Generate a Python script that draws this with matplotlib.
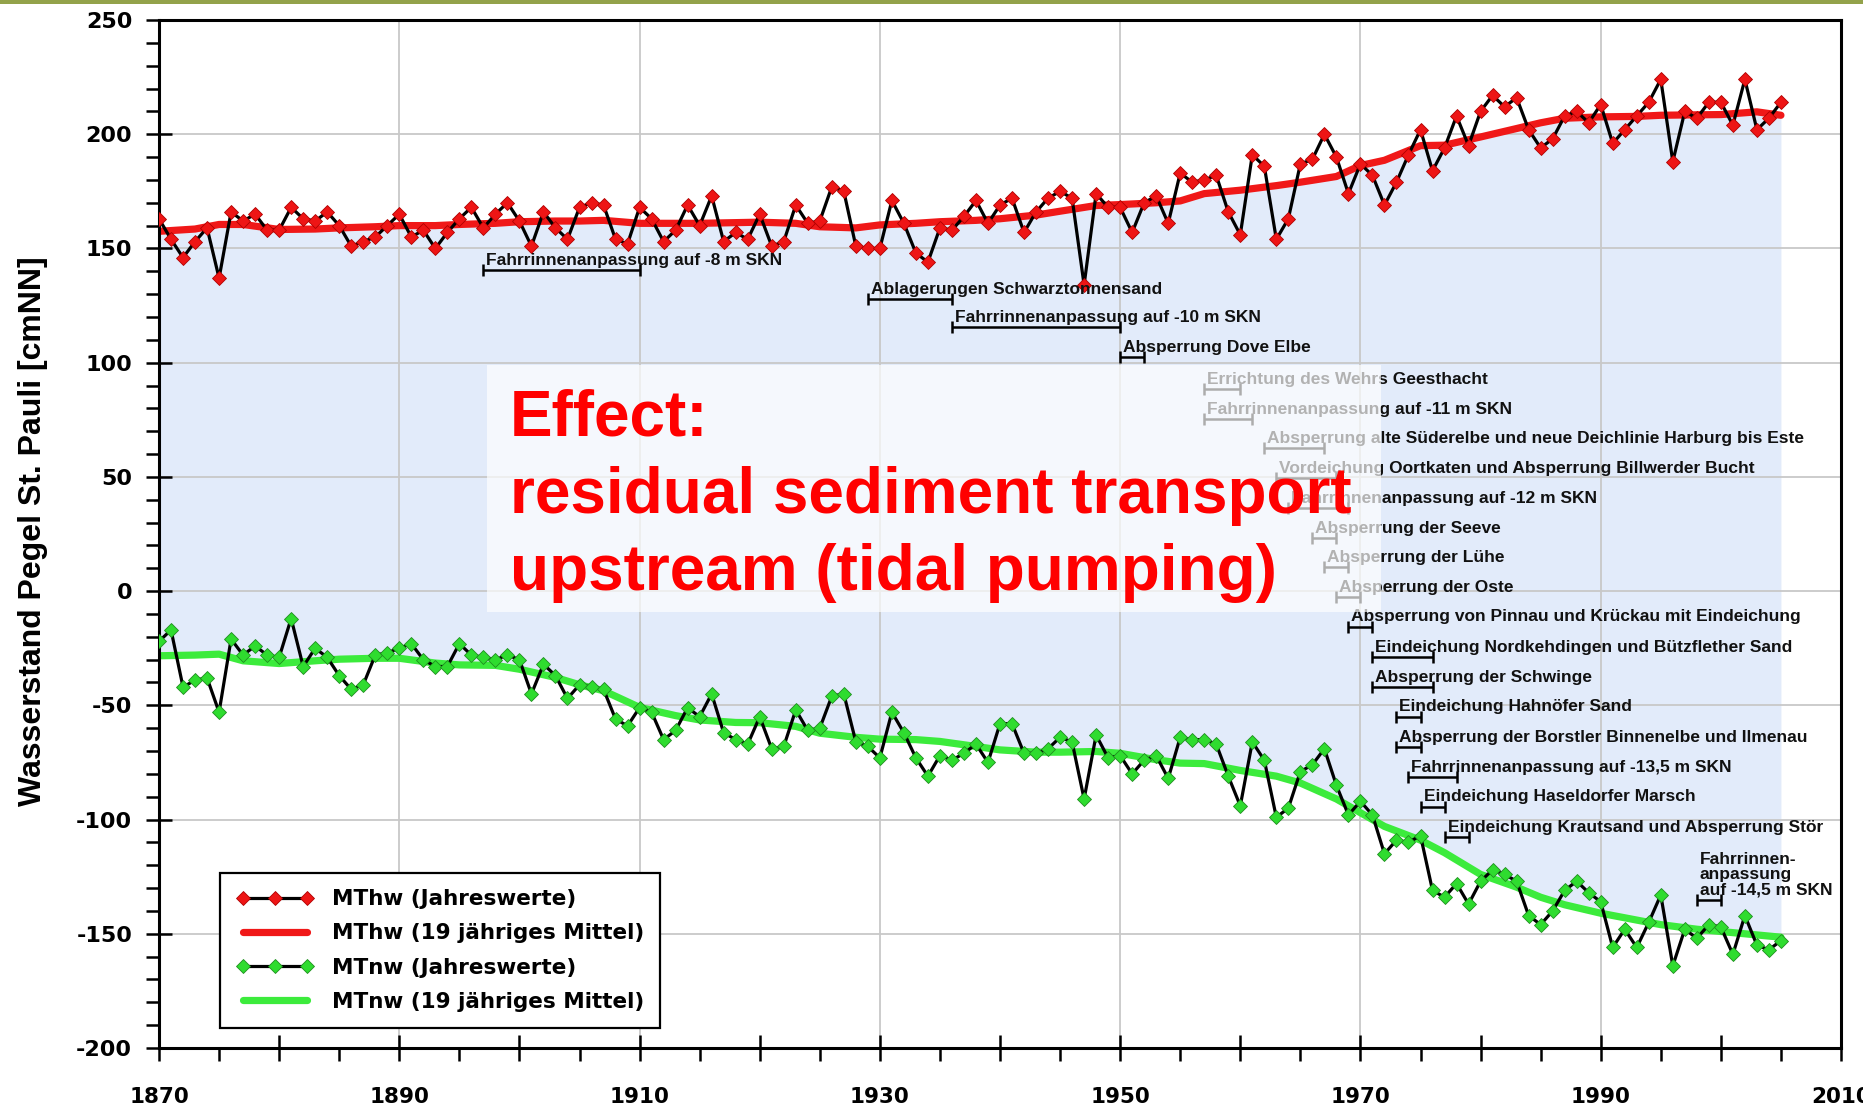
import matplotlib
matplotlib.use("Agg")
import matplotlib.pyplot as plt
from matplotlib.patches import Rectangle
from matplotlib.ticker import MultipleLocator, FixedLocator

plt.rcParams["axes.unicode_minus"] = False

# ---------------- data ----------------
years = list(range(1870, 2006))

mthw_annual = [
    163, 154, 146, 153, 159, 137, 166, 162, 165, 158,   # 1870-1879
    158, 168, 163, 162, 166, 160, 151, 153, 155, 160,   # 1880-1889
    165, 155, 158, 150, 157, 163, 168, 159, 165, 170,   # 1890-1899
    162, 151, 166, 159, 154, 168, 170, 169, 154, 152,   # 1900-1909
    168, 163, 153, 158, 169, 160, 173, 153, 157, 154,   # 1910-1919
    165, 151, 153, 169, 161, 162, 177, 175, 151, 150,   # 1920-1929
    150, 171, 161, 148, 144, 159, 158, 164, 171, 161,   # 1930-1939
    169, 172, 157, 166, 172, 175, 172, 134, 174, 168,   # 1940-1949
    168, 157, 170, 173, 161, 183, 179, 180, 182, 166,   # 1950-1959
    156, 191, 186, 154, 163, 187, 189, 200, 190, 174,   # 1960-1969
    187, 182, 169, 179, 191, 202, 184, 194, 208, 195,   # 1970-1979
    210, 217, 212, 216, 202, 194, 198, 208, 210, 205,   # 1980-1989
    213, 196, 202, 208, 214, 224, 188, 210, 207, 214,   # 1990-1999
    214, 204, 224, 202, 207, 214,                       # 2000-2005
]

mtnw_annual = [
    -22, -17, -42, -39, -38, -53, -21, -28, -24, -28,   # 1870-1879
    -29, -12, -33, -25, -29, -37, -43, -41, -28, -27,   # 1880-1889
    -25, -23, -30, -33, -33, -23, -28, -29, -30, -28,   # 1890-1899
    -30, -45, -32, -37, -47, -41, -42, -43, -56, -59,   # 1900-1909
    -51, -53, -65, -61, -51, -55, -45, -62, -65, -67,   # 1910-1919
    -55, -69, -68, -52, -61, -60, -46, -45, -66, -68,   # 1920-1929
    -73, -53, -62, -73, -81, -72, -74, -71, -67, -75,   # 1930-1939
    -58, -58, -71, -71, -69, -64, -66, -91, -63, -73,   # 1940-1949
    -72, -80, -74, -72, -82, -64, -65, -65, -67, -81,   # 1950-1959
    -94, -66, -74, -99, -95, -79, -76, -69, -85, -98,   # 1960-1969
    -92, -98, -115, -109, -110, -107, -131, -134, -128, -137,  # 1970-1979
    -127, -122, -124, -127, -142, -146, -140, -131, -127, -132,  # 1980-1989
    -136, -156, -148, -156, -145, -133, -164, -148, -152, -146,  # 1990-1999
    -147, -159, -142, -155, -157, -153,                 # 2000-2005
]

mean_years = [1870, 1873, 1875, 1877, 1880, 1883, 1885, 1888, 1890, 1893,
              1895, 1898, 1900, 1903, 1905, 1907, 1910, 1913, 1915, 1918,
              1920, 1923, 1925, 1928, 1930, 1933, 1935, 1938, 1940, 1943,
              1945, 1948, 1950, 1953, 1955, 1957, 1960, 1963, 1965, 1968,
              1970, 1972, 1975, 1977, 1980, 1983, 1985, 1987, 1990, 1993,
              1995, 1998, 2000, 2003, 2005]

mthw_mean = [157.5, 158.5, 160.5, 160.5, 158.3, 158.5, 159.0, 159.5, 160.0, 160.0,
             160.5, 161.0, 161.7, 162.0, 162.0, 162.3, 161.0, 161.0, 161.0, 161.3,
             161.5, 161.0, 159.5, 159.0, 160.3, 161.0, 161.7, 162.3, 163.0, 164.6,
             166.3, 168.8, 169.2, 170.0, 170.8, 174.0, 175.5, 177.5, 179.0, 181.5,
             186.3, 188.6, 195.0, 195.2, 198.8, 202.5, 205.0, 207.0, 207.6, 207.8,
             208.3, 208.5, 208.6, 209.8, 208.3]

mtnw_mean = [-28.3, -28.0, -27.6, -30.5, -31.7, -30.5, -29.8, -29.4, -29.4, -31.5,
             -32.3, -32.5, -34.2, -37.8, -41.0, -43.6, -50.9, -54.5, -56.4, -57.5,
             -57.6, -59.2, -62.2, -64.0, -64.8, -65.0, -65.8, -68.0, -69.5, -70.5,
             -70.5, -70.2, -71.0, -73.8, -75.3, -75.5, -78.5, -81.0, -84.0, -91.0,
             -97.0, -103.0, -109.0, -114.5, -124.0, -129.6, -134.0, -137.3, -141.0, -144.0,
             -146.0, -148.0, -149.0, -150.5, -151.5]

event_labels = [
    "Fahrrinnenanpassung auf -8 m SKN",
    "Ablagerungen Schwarztonnensand",
    "Fahrrinnenanpassung auf -10 m SKN",
    "Absperrung Dove Elbe",
    "Errichtung des Wehrs Geesthacht",
    "Fahrrinnenanpassung auf -11 m SKN",
    "Absperrung alte Süderelbe und neue Deichlinie Harburg bis Este",
    "Vordeichung Oortkaten und Absperrung Billwerder Bucht",
    "Fahrrinnenanpassung auf -12 m SKN",
    "Absperrung der Seeve",
    "Absperrung der Lühe",
    "Absperrung der Oste",
    "Absperrung von Pinnau und Krückau mit Eindeichung",
    "Eindeichung Nordkehdingen und Bützflether Sand",
    "Absperrung der Schwinge",
    "Eindeichung Hahnöfer Sand",
    "Absperrung der Borstler Binnenelbe und Ilmenau",
    "Fahrrinnenanpassung auf -13,5 m SKN",
    "Eindeichung Haseldorfer Marsch",
    "Eindeichung Krautsand und Absperrung Stör",
    "Fahrrinnen-\nanpassung\nauf -14,5 m SKN",
]
event_start = [1897, 1929, 1936, 1950, 1957, 1957, 1962, 1963, 1964, 1966, 1967,
               1968, 1969, 1971, 1971, 1973, 1973, 1974, 1975, 1977, 1998]
event_end = [1910, 1936, 1950, 1952, 1960, 1961, 1967, 1968, 1969, 1968, 1969,
             1970, 1971, 1976, 1976, 1975, 1975, 1978, 1977, 1979, 2000]
event_level = [140.5, 127.7, 115.5, 102.5, 88.4, 75.3, 62.5, 49.5, 36.2, 23.1, 10.4,
               -2.5, -15.6, -28.8, -41.9, -55.0, -68.2, -81.3, -94.4, -107.6, -135.3]

series_labels = ["MThw (Jahreswerte)", "MThw (19 jähriges Mittel)",
                 "MTnw (Jahreswerte)", "MTnw (19 jähriges Mittel)"]
ylabel_text = "Wasserstand Pegel St. Pauli [cmNN]"
effect_text = "Effect:\nresidual sediment transport\nupstream (tidal pumping)"

x_major = [1870, 1880, 1890, 1900, 1910, 1920, 1930, 1940, 1950, 1960,
           1970, 1980, 1990, 2000, 2010]
x_labels = ["1870", "", "1890", "", "1910", "", "1930", "", "1950", "",
            "1970", "", "1990", "", "2010"]
x_grid = [1890, 1910, 1930, 1950, 1970, 1990]
y_major = [-200, -150, -100, -50, 0, 50, 100, 150, 200, 250]
y_grid = [-150, -100, -50, 0, 50, 100, 150, 200]

# ---------------- styles ----------------
RED = "#EE1515"
RED_MEAN = "#F01818"
GREEN = "#2FDC2F"
GREEN_MEAN = "#3CEB3C"
FILL = "#E2EBFA"
GRID = "#C8C8C8"

fig = plt.figure(figsize=(18.63, 11.09), dpi=100)
fig.patches.append(Rectangle((0, 1 - 4 / 1109), 1, 4 / 1109, transform=fig.transFigure,
                             facecolor="#93A24A", edgecolor="none"))
ax = fig.add_axes([0.08535, 0.0550, 0.90284, 0.92696])

ax.set_xlim(1870, 2010)
ax.set_ylim(-200, 250)

# blue band between the two running means
ax.fill_between(mean_years, mtnw_mean, mthw_mean, color=FILL, lw=0, zorder=1)

for v in y_grid:
    ax.axhline(v, color=GRID, lw=1.3, zorder=1.5)
for yr in x_grid:
    ax.axvline(yr, color=GRID, lw=1.3, zorder=1.5)

# running means
l_hm, = ax.plot(mean_years, mthw_mean, color=RED_MEAN, lw=5.2, solid_capstyle="round", zorder=2)
l_nm, = ax.plot(mean_years, mtnw_mean, color=GREEN_MEAN, lw=5.2, solid_capstyle="round", zorder=2)

# annual values
l_ha, = ax.plot(years, mthw_annual, color="black", lw=2.3, marker="D", ms=7.3,
                mfc=RED, mec="#B00000", mew=0.6, zorder=3)
l_na, = ax.plot(years, mtnw_annual, color="black", lw=2.3, marker="D", ms=7.3,
                mfc=GREEN, mec="#1E8E1E", mew=0.6, zorder=3)

# event annotations
for lab, x0, x1, lvl in zip(event_labels, event_start, event_end, event_level):
    ax.errorbar(x0, lvl, xerr=[[0], [x1 - x0]], fmt="none", ecolor="black",
                elinewidth=1.8, capsize=4.3, capthick=1.8, zorder=3)
    ax.text(x0 + 0.25, lvl + 1.0, lab, fontsize=12.5, fontweight="bold",
            family="Liberation Sans", color="#111111", ha="left", va="bottom",
            linespacing=1.05, zorder=3)

# semi-transparent box and effect text
ax.add_patch(Rectangle((1897.3, -9.2), 74.4, 108.4, facecolor="white", alpha=0.68,
                       edgecolor="none", zorder=4))
ax.text(1899.2, 0.5, effect_text, color="#FF0000", fontsize=46, fontweight="bold",
        family="Liberation Sans", ha="left", va="baseline", linespacing=1.37, zorder=5)

# axes / ticks
for sp in ax.spines.values():
    sp.set_linewidth(2.2)
    sp.set_color("black")

ax.xaxis.set_major_locator(FixedLocator(x_major))
ax.set_xticklabels(x_labels)
ax.xaxis.set_minor_locator(MultipleLocator(5))
ax.yaxis.set_major_locator(FixedLocator(y_major))
ax.yaxis.set_minor_locator(MultipleLocator(10))

ax.tick_params(axis="x", which="major", direction="inout", length=18.7, width=1.8,
               pad=19, labelsize=15.5, colors="black")
ax.tick_params(axis="x", which="minor", direction="out", length=9.4, width=1.8)
ax.tick_params(axis="y", which="major", direction="inout", length=18.7, width=1.8,
               pad=10, labelsize=16, colors="black")
ax.tick_params(axis="y", which="minor", direction="out", length=9.4, width=1.8)
for lbl in ax.get_xticklabels() + ax.get_yticklabels():
    lbl.set_fontweight("bold")
    lbl.set_fontfamily("DejaVu Sans")

ax.set_ylabel(ylabel_text, fontsize=23, fontweight="bold", family="Liberation Sans")
ax.yaxis.set_label_coords(-0.066, 0.503)

leg = ax.legend([l_ha, l_hm, l_na, l_nm], series_labels, loc="lower left",
                bbox_to_anchor=(0.0363, 0.0195), borderaxespad=0, frameon=True,
                fancybox=False, edgecolor="black", framealpha=1, numpoints=3,
                prop={"family": "DejaVu Sans", "weight": "bold", "size": 15.5},
                handlelength=3.6, handletextpad=0.85, labelspacing=0.66, borderpad=0.75)
leg.get_frame().set_linewidth(1.6)
leg.set_zorder(6)

fig.savefig("out.png", dpi=100)
